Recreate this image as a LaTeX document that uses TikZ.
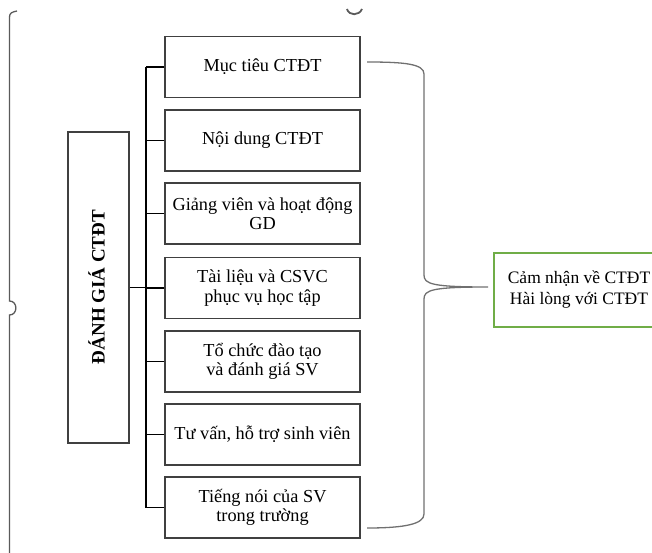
\documentclass[tikz,border=0pt]{standalone}
\usepackage{fontspec}
\setmainfont{Liberation Serif}
\definecolor{boxgray}{HTML}{404040}
\definecolor{bracegray}{HTML}{707070}
\definecolor{framegray}{HTML}{5A5A5A}
\definecolor{boxgreen}{HTML}{70AD47}
\begin{document}
\begin{tikzpicture}[x=1pt,y=-1pt,
  itembox/.style={draw=boxgray, line width=1.3pt, minimum width=195pt, minimum height=61pt,
    inner sep=0pt, align=center, font=\fontsize{18.3}{19.5}\selectfont},
  titlebox/.style={draw=boxgray, line width=1.3pt, minimum width=61pt, minimum height=311pt, inner sep=0pt},
  titletext/.style={rotate=90, anchor=base, inner sep=0pt, font=\fontsize{19}{21}\selectfont\bfseries},
  greenbox/.style={draw=boxgreen, line width=1.5pt, minimum width=170pt, minimum height=74pt,
    inner sep=0pt, align=center, font=\fontsize{17.5}{21}\selectfont},
  bus/.style={draw=black, line width=1.8pt},
  bracestyle/.style={draw=bracegray, line width=1.3pt},
  framestyle/.style={draw=framegray, line width=1.3pt}]
\useasboundingbox (0,0) rectangle (652,553);
\clip (0,0) rectangle (652,553);

% page-edge artifacts
\draw[framestyle] (9.5,553) -- (9.5,315) .. controls (18,315) and (18,301) .. (9.5,301) -- (9.5,17)
  .. controls (9.5,13) and (12,12) .. (17,11);
\draw[framestyle, line width=1.8pt] (347,9) .. controls (349,16) and (359,16) .. (362,9);

% left title box
\node[titlebox] (title) at (98.5,287.5) {};
\node[titletext] (titlelabel) at (104.5,287) {ĐÁNH GIÁ CTĐT};

% item boxes
\node[itembox] (b1) at (262.5,67)    {Mục tiêu CTĐT};
\node[itembox] (b2) at (262.5,140.5) {Nội dung CTĐT};
\node[itembox] (b3) at (262.5,213.5) {Giảng viên và hoạt động\\GD};
\node[itembox] (b4) at (262.5,288)   {Tài liệu và CSVC\\phục vụ học tập};
\node[itembox] (b5) at (262.5,361.5) {Tổ chức đào tạo\\và đánh giá SV};
\node[itembox] (b6) at (262.5,434.5) {Tư vấn, hỗ trợ sinh viên};
\node[itembox] (b7) at (262.5,507.5) {Tiếng nói của SV\\trong trường};

% bus connectors
\coordinate (bt) at (146,67);
\coordinate (bb) at (146,507.5);
\draw[bus] (bt) -- (bb);
\foreach \i in {1,...,7} {\draw[bus] (b\i.west) -- (b\i.west -| bt);}
\draw[bus] (title.east) -- (title.east -| bt);

% green result box
\node[greenbox] (res) at (579,290) {Cảm nhận về CTĐT\\Hài lòng với CTĐT};

% brace
\coordinate (brtop) at (367,62);
\coordinate (brtip) at (488,287);
\coordinate (brbot) at (367,528);
\draw[bracestyle] (brtop) .. controls (405,62) and (424,64) .. (424,74) -- (424,275)
  .. controls (424,284) and (432,287) .. (brtip)
  .. controls (432,287) and (424,290) .. (424,299) -- (424,514)
  .. controls (424,524) and (405,528) .. (brbot);
\end{tikzpicture}
\end{document}
